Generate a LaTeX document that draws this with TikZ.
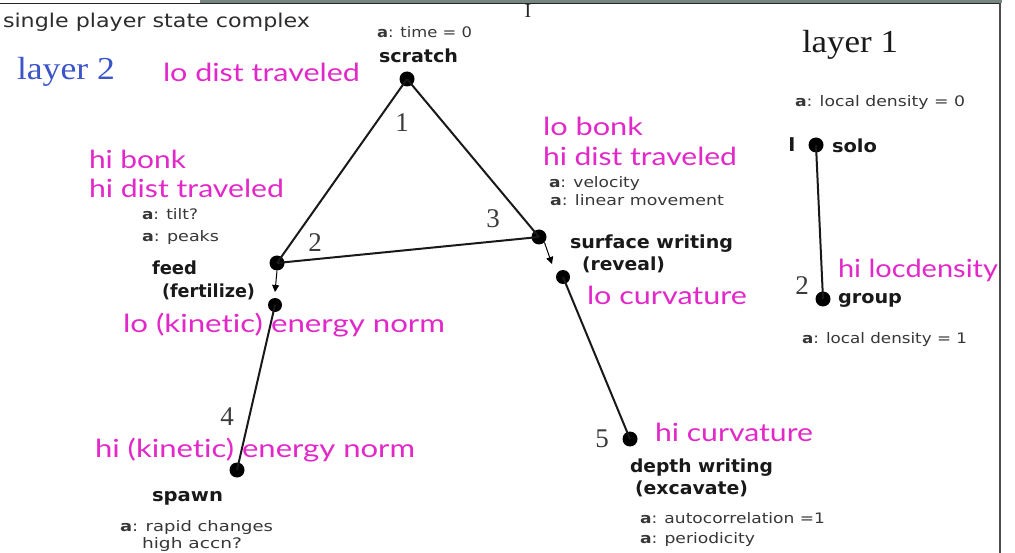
\documentclass[tikz,border=0pt]{standalone}
\usepackage{fontspec}
\usepackage{graphicx}
\usetikzlibrary{arrows.meta}
\setmainfont{Liberation Serif}
\newfontfamily\dvs{DejaVu Sans}
\newfontfamily\lato[Ligatures={NoCommon}]{Lato}
\definecolor{magc}{RGB}{226,40,200}
\definecolor{bluc}{RGB}{60,85,200}
\definecolor{labc}{RGB}{25,25,25}
\definecolor{smc}{RGB}{55,55,55}
\definecolor{ttlc}{RGB}{45,45,45}
\definecolor{stripc}{RGB}{120,132,128}
\newlength\fitlen
\newcommand\fitto[2]{\settowidth\fitlen{#2}\pgfmathsetmacro\fitfac{#1/\fitlen}\scalebox{\fitfac}[1]{#2}}
\tikzset{
  txt/.style={inner sep=0pt, outer sep=0pt, anchor=base west},
  ttl/.style={txt, text=ttlc, font=\dvs\fontsize{19}{22}\selectfont},
  lbl/.style={txt, text=labc, font=\dvs\bfseries\fontsize{18}{21}\selectfont},
  sm/.style={txt, text=smc, font=\dvs\fontsize{14.5}{17}\selectfont},
  mag/.style={txt, text=magc, font=\lato\fontsize{25}{29}\selectfont},
  lay/.style={txt, font=\fontsize{32}{36}\selectfont},
  dig/.style={inner sep=0pt, anchor=base, text=labc!85, font=\fontsize{27}{30}\selectfont},
  dot/.style={circle, fill=black, inner sep=0pt, minimum size=15pt},
  sdot/.style={circle, fill=black, inner sep=0pt, minimum size=14pt},
  edge/.style={line width=2pt, black!90},
  shortarrow/.style={line width=1pt, -{Triangle[length=7pt,width=7pt]}},
}
\begin{document}
\begin{tikzpicture}[x=1pt,y=-1pt]
\useasboundingbox (0,0) rectangle (1015,553);
\fill[white] (0,0) rectangle (1015,553);

% frame
\node[inner sep=0pt, anchor=base, text=black!85, font=\fontsize{20}{22}\selectfont] (tick) at (528,18) {I};
\fill[stripc] (200,0) rectangle (1002,3);
\draw[line width=1.5pt, black!85] (0,3.5) -- (1001,3.5);
\draw[line width=2pt, black!70] (1000,3) -- (1000,553);

% dots
\node[dot] (scratch) at (407,79) {};
\node[dot] (feed) at (277,263) {};
\node[dot] (surf) at (539,237) {};
\node[sdot] (feedb) at (275,305) {};
\node[sdot] (surfb) at (563,277) {};
\node[dot] (spawn) at (237,470) {};
\node[dot] (depth) at (630,439) {};
\node[dot] (solo) at (816,145) {};
\node[dot] (group) at (823,299) {};
\coordinate (fa) at (275,292);
\coordinate (sa) at (552,264);

% connectors
\draw[edge] (scratch.center) -- (feed.center);
\draw[edge] (scratch.center) -- (surf.center);
\draw[edge] (feed.center) -- (surf.center);
\draw[shortarrow] (feed.south) -- (fa);
\draw[shortarrow] (surf.south east) -- (sa);
\draw[edge] (feedb.center) -- (spawn.center);
\draw[edge] (surfb.center) -- (depth.center);
\draw[edge] (solo.center) -- (group.center);

% texts
\node[ttl] (title) at (3,28) {\fitto{307}{single player state complex}};
\node[sm] (ascratch) at (377,38) {\fitto{95}{\textbf{a}: time = 0}};
\node[lbl] (lscratch) at (379,63) {\fitto{79}{scratch}};
\node[lay, text=bluc] (layer2) at (17,80) {\fitto{98}{layer 2}};
\node[mag] (m1) at (163,82) {\fitto{197}{lo dist traveled}};
\node[dig] (e1) at (402,132) {1};

\node[mag] (m2) at (89,169) {\fitto{97}{hi bonk}};
\node[mag] (m3) at (89,198) {\fitto{195}{hi dist traveled}};
\node[sm] (a2) at (142,220) {\fitto{56}{\textbf{a}: tilt?}};
\node[sm] (a3) at (142,242) {\fitto{77}{\textbf{a}: peaks}};
\node[dig] (e2) at (315,252) {2};
\node[dig] (e3) at (493,228) {3};
\node[lbl] (lfeed) at (152,275) {\fitto{45}{feed}};
\node[lbl] (lfert) at (162,298) {\fitto{93}{(fertilize)}};
\node[mag] (m4) at (123,333) {\fitto{322}{lo (kinetic) energy norm}};

\node[mag] (m5) at (543,136) {\fitto{100}{lo bonk}};
\node[mag] (m6) at (543,166) {\fitto{194}{hi dist traveled}};
\node[sm] (a4) at (549,188) {\fitto{91}{\textbf{a}: velocity}};
\node[sm] (a5) at (550,206) {\fitto{174}{\textbf{a}: linear movement}};
\node[lbl] (lsurf) at (570,249) {\fitto{163}{surface writing}};
\node[lbl] (lrev) at (582,271) {\fitto{83}{(reveal)}};
\node[mag] (m7) at (587,305) {\fitto{160}{lo curvature}};

\node[lay, text=labc] (layer1) at (802,53) {\fitto{96}{layer 1}};
\node[sm] (a6) at (795,107) {\fitto{170}{\textbf{a}: local density = 0}};
\node[inner sep=0pt, anchor=base, text=labc, font=\dvs\bfseries\fontsize{19}{22}\selectfont] (bar1) at (792,152) {I};
\node[lbl] (lsolo) at (832,153) {\fitto{45}{solo}};
\node[mag] (m8) at (838,278) {\fitto{160}{hi locdensity}};
\node[dig] (e2r) at (802,295) {2};
\node[lbl] (lgroup) at (838,304) {\fitto{64}{group}};
\node[sm] (a7) at (802,344) {\fitto{165}{\textbf{a}: local density = 1}};

\node[dig] (e4) at (227,425) {4};
\node[mag] (m9) at (95,457) {\fitto{320}{hi (kinetic) energy norm}};
\node[lbl] (lspawn) at (152,501) {\fitto{71}{spawn}};
\node[sm] (a8) at (120,531) {\fitto{153}{\textbf{a}: rapid changes}};
\node[sm] (a9) at (142,548) {\fitto{100}{high accn?}};

\node[dig] (e5) at (602,447) {5};
\node[mag] (m10) at (655,441) {\fitto{158}{hi curvature}};
\node[lbl] (ldepth) at (630,472) {\fitto{143}{depth writing}};
\node[lbl] (lexc) at (635,494) {\fitto{113}{(excavate)}};
\node[sm] (a10) at (640,523) {\fitto{185}{\textbf{a}: autocorrelation =1}};
\node[sm] (a11) at (640,543) {\fitto{115}{\textbf{a}: periodicity}};
\end{tikzpicture}
\end{document}
